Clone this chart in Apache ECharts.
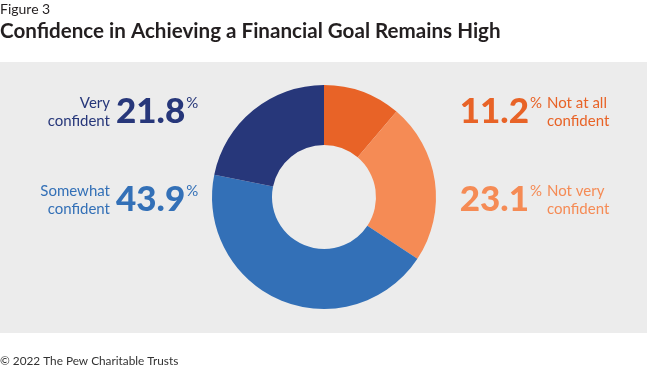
<!DOCTYPE html>
<html><head><meta charset="utf-8">
<script src="https://cdn.jsdelivr.net/npm/echarts@6/dist/echarts.min.js"></script>
<style>html,body{margin:0;padding:0;background:#fff}#c{width:650px;height:368px}</style>
</head><body><div id="c"></div>
<script>
const categories = ['Not at all confident', 'Not very confident', 'Somewhat confident', 'Very confident'];
const labelLines = [['Not at all', 'confident'], ['Not very', 'confident'], ['Somewhat', 'confident'], ['Very', 'confident']];
const values = [11.2, 23.1, 43.9, 21.8];
const colors = ['#e86327', '#f58b55', '#3370b7', '#27377a'];

const FONT = 'Lato, "Noto Sans", sans-serif';
const chart = echarts.init(document.getElementById('c'), null, {renderer: 'canvas'});

const slots = [
  {side: 'right', y: 112},
  {side: 'right', y: 200},
  {side: 'left', y: 200},
  {side: 'left', y: 112}
];

const graphics = [
  {type: 'rect', z: -10, shape: {x: 0, y: 62, width: 647, height: 271}, style: {fill: '#ececec'}},
  {type: 'text', style: {x: 0, y: 9, text: 'Figure 3', font: '14px ' + FONT, fill: '#231f20', verticalAlign: 'middle'}},
  {type: 'text', style: {x: 0, y: 31, text: 'Confidence in Achieving a Financial Goal Remains High', font: 'bold 20.6px ' + FONT, fill: '#231f20', verticalAlign: 'middle'}},
  {type: 'text', style: {x: 0, y: 361, text: '\u00a9 2022 The Pew Charitable Trusts', font: '11.8px ' + FONT, fill: '#333', verticalAlign: 'middle'}}
];

values.forEach((v, i) => {
  const s = slots[i];
  const c = colors[i];
  const numText = '{n|' + v.toFixed(1) + '}{p|%}';
  const rich = {n: {font: '900 35px ' + FONT, fill: c}, p: {font: '15px ' + FONT, fill: c, verticalAlign: 'top', padding: [1, 0, 0, 1]}};
  if (s.side === 'left') {
    graphics.push({type: 'text', style: {x: 110, y: s.y, text: labelLines[i].join('\n'), font: '15px ' + FONT, lineHeight: 18, fill: c, align: 'right', verticalAlign: 'middle'}});
    graphics.push({type: 'text', style: {x: 116, y: s.y, text: numText, fill: c, align: 'left', verticalAlign: 'middle', rich}});
  } else {
    graphics.push({type: 'text', style: {x: 547, y: s.y, text: labelLines[i].join('\n'), font: '15px ' + FONT, lineHeight: 18, fill: c, align: 'left', verticalAlign: 'middle'}});
    graphics.push({type: 'text', style: {x: 542, y: s.y, text: numText, fill: c, align: 'right', verticalAlign: 'middle', rich}});
  }
});

chart.setOption({
  animation: false,
  backgroundColor: '#fff',
  graphic: graphics,
  series: [{
    type: 'pie',
    center: [324, 197],
    radius: [52, 112],
    startAngle: 90,
    clockwise: true,
    silent: true,
    label: {show: false},
    labelLine: {show: false},
    itemStyle: {borderWidth: 0},
    data: values.map((v, i) => ({name: categories[i], value: v, itemStyle: {color: colors[i]}}))
  }]
});
</script></body></html>
